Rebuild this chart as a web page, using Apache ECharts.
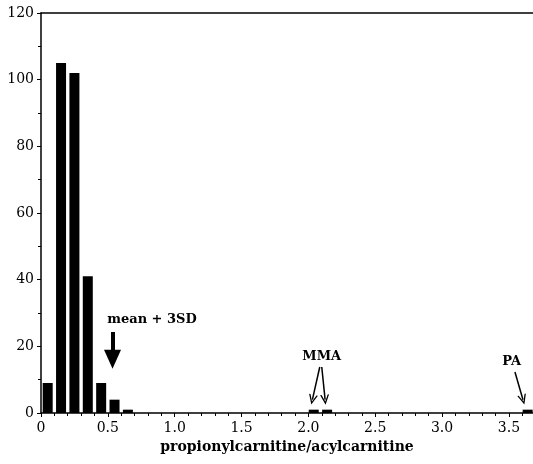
<!DOCTYPE html>
<html>
<head>
<meta charset="utf-8">
<script src="https://cdn.jsdelivr.net/npm/echarts@6/dist/echarts.min.js"></script>
<style>
  html, body { margin: 0; padding: 0; background: #fff; }
  #chart { width: 533px; height: 464px; }
</style>
</head>
<body>
<div id="chart"></div>
<script>
// histogram bins (bin centre on the ratio axis) and counts
var binCenters = [0.05, 0.15, 0.25, 0.35, 0.45, 0.55, 0.65, 2.04, 2.14, 3.64];
var counts = [9, 105, 102, 41, 9, 4, 1, 1, 1, 1];

// annotation texts and where they sit, in data units
var noteTexts = ['mean + 3SD', 'MMA', 'PA'];
var noteX = [0.83, 2.10, 3.52];
var noteY = [28, 17, 15.3];

// arrows: [x1, y1, x2, y2] in data units
var thickArrow = [[0.535, 24.3, 0.535, 16.1]];
var thinArrows = [
    [2.085, 13.8, 2.03, 4.0],
    [2.10, 13.8, 2.125, 4.0],
    [3.545, 12.3, 3.605, 4.0]
];

var serif = '"DejaVu Serif", "Liberation Serif", serif';
var chevron = 'path://M5,0 L10,10 L8.4,10 L5,3.2 L1.6,10 L0,10 Z';

var dom = document.getElementById('chart');
var chart = echarts.init(dom, null, { renderer: 'canvas' });

function arrowData(list) {
    return list.map(function (a) {
        return [{ coord: [a[0], a[1]] }, { coord: [a[2], a[3]] }];
    });
}

var option = {
    animation: false,
    grid: { left: 41, right: 0, top: 13, bottom: 51 },
    xAxis: [{
        type: 'value',
        min: 0,
        max: 3.68,
        interval: 0.5,
        name: 'propionylcarnitine/acylcarnitine',
        nameLocation: 'middle',
        nameGap: 25,
        nameTextStyle: { fontFamily: serif, fontWeight: 'bold', fontSize: 14, color: '#000' },
        axisLine: { lineStyle: { color: '#000', width: 1.5 } },
        axisTick: { inside: false, length: 4, lineStyle: { color: '#000' } },
        minorTick: { show: true, splitNumber: 5, length: 3, lineStyle: { color: '#000' } },
        splitLine: { show: false },
        axisLabel: {
            fontFamily: serif, fontSize: 14, color: '#000', margin: 8,
            showMaxLabel: false,
            formatter: function (v) { return v === 0 ? '0' : v.toFixed(1); }
        }
    }, {
        type: 'value',
        position: 'top',
        min: 0,
        max: 3.68,
        axisLine: { show: true, lineStyle: { color: '#000', width: 1.5 } },
        axisTick: { show: false },
        axisLabel: { show: false },
        splitLine: { show: false }
    }],
    yAxis: {
        type: 'value',
        min: 0,
        max: 120,
        interval: 20,
        axisLine: { show: true, lineStyle: { color: '#000', width: 1.5 } },
        axisTick: { show: true, length: 4, lineStyle: { color: '#000' } },
        minorTick: { show: true, splitNumber: 2, length: 3, lineStyle: { color: '#000' } },
        splitLine: { show: false },
        axisLabel: { fontFamily: serif, fontSize: 14, color: '#000', margin: 7 }
    },
    series: [{
        type: 'bar',
        barWidth: 10,
        itemStyle: { color: '#000' },
        data: binCenters.map(function (x, i) { return [x, counts[i]]; }),
        markPoint: {
            symbol: 'circle',
            symbolSize: 0,
            label: {
                show: true,
                position: 'inside',
                formatter: '{b}',
                fontFamily: serif,
                fontWeight: 'bold',
                fontSize: 13,
                color: '#000'
            },
            data: noteTexts.map(function (t, i) {
                return { name: t, coord: [noteX[i], noteY[i]] };
            })
        },
        markLine: {
            silent: true,
            symbol: ['none', 'triangle'],
            symbolSize: [17, 19],
            label: { show: false },
            lineStyle: { color: '#000', type: 'solid', width: 4 },
            data: arrowData(thickArrow)
        }
    }, {
        type: 'line',
        data: [],
        markLine: {
            silent: true,
            symbol: ['none', chevron],
            symbolSize: [9, 10],
            label: { show: false },
            lineStyle: { color: '#000', type: 'solid', width: 1.5 },
            data: arrowData(thinArrows)
        }
    }]
};

chart.setOption(option);
window.addEventListener('resize', function () {
    chart.resize();
});
</script>
</body>
</html>
